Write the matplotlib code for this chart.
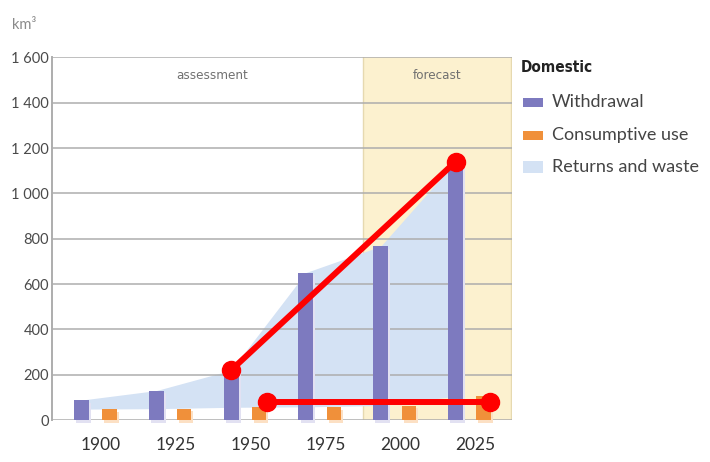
import matplotlib
matplotlib.use("Agg")
import matplotlib.pyplot as plt
import matplotlib.patheffects as pe
from matplotlib.patches import Rectangle
import numpy as np

# ---- data -------------------------------------------------------------
years = ["1900", "1925", "1950", "1975", "2000", "2025"]
withdrawal = [88, 130, 220, 651, 767, 1140]
consumptive = [48, 50, 56, 58, 64, 105]
y_ticks = [0, 200, 400, 600, 800, 1000, 1200, 1400, 1600]
y_tick_labels = ["0", "200", "400", "600", "800", "1 000", "1 200", "1 400", "1 600"]
period_labels = ["assessment", "forecast"]
legend_title = "Domestic"
legend_labels = ["Withdrawal", "Consumptive use", "Returns and waste"]
unit_label = "km³"
# highlighted trends (1950 -> 2025)
trend_withdrawal = [220, 1140]
trend_consumptive = [80, 80]

# ---- style ------------------------------------------------------------
W, H, DPI = 710, 462, 100
c_with = "#7d7abf"
c_cons = "#f0903a"
c_ret = "#d4e2f4"
c_fore = "#fcf1cf"
c_fore_edge = "#e6d9b0"
c_grid = "#adadad"
c_red = "#ff0000"
font = "Lato"

plt.rcParams["font.family"] = [font, "DejaVu Sans"]

fig = plt.figure(figsize=(W / DPI, H / DPI), dpi=DPI)
ax = fig.add_axes([52 / W, 42 / H, 460 / W, 362.5 / H])

idx = np.arange(len(years))
xw = idx - 0.26
xc = idx + 0.113
bar_w = 0.2

x_lo, x_hi = -0.655, 5.495
ax.set_xlim(x_lo, x_hi)
ax.set_ylim(0, 1600)

# forecast band
ax.axvspan(3.5, x_hi, color=c_fore, zorder=0, lw=0)
for xv in (3.5, x_hi - 0.01):
    ax.axvline(xv, color=c_fore_edge, lw=1.0, zorder=0.5)

# returns and waste: area between consumptive and withdrawal
ax.fill_between(xw, consumptive, withdrawal, color=c_ret, lw=0, zorder=1)

# grid
for yv in y_ticks:
    ax.axhline(yv, color=c_grid, lw=1.1, zorder=2)

# bars with soft drop shadows
ax.bar(xw, withdrawal, width=bar_w, color=c_with, zorder=3, clip_on=False,
       path_effects=[pe.SimplePatchShadow(offset=(1.5, -2), shadow_rgbFace="#e2e1f2", alpha=1.0),
                     pe.Normal()])
ax.bar(xc, consumptive, width=0.19, color=c_cons, zorder=3, clip_on=False,
       path_effects=[pe.SimplePatchShadow(offset=(1.5, -2), shadow_rgbFace="#fce0c4", alpha=1.0),
                     pe.Normal()])

# highlighted trend lines
ax.plot([xw[2], xw[5]], trend_withdrawal, color=c_red, lw=4.3, marker="o",
        markersize=13, solid_capstyle="round", zorder=6, clip_on=False)
ax.plot([xc[2] + 0.1, xc[5] + 0.09], trend_consumptive, color=c_red, lw=4.3, marker="o",
        markersize=13, solid_capstyle="round", zorder=6, clip_on=False)

# period headers
ax.text((x_lo + 3.5) / 2 + 0.06, 1522, period_labels[0], ha="center", va="center",
        fontsize=9.5, color="#707070", family=["DejaVu Sans"], fontstretch="condensed")
ax.text((3.5 + x_hi) / 2, 1522, period_labels[1], ha="center", va="center",
        fontsize=9.5, color="#707070", family=["DejaVu Sans"], fontstretch="condensed")

# axes
for s in ("top", "right", "bottom"):
    ax.spines[s].set_visible(False)
ax.spines["left"].set_color(c_grid)
ax.spines["left"].set_linewidth(1.4)
ax.set_yticks(y_ticks)
ax.set_yticklabels(y_tick_labels)
ax.set_xticks(idx)
ax.set_xticklabels(years)
ax.tick_params(axis="y", length=0, pad=2, labelsize=10.5, labelcolor="#4a4a4a")
ax.tick_params(axis="x", length=0, pad=12, labelsize=12.5, labelcolor="#333333")

# unit label
fig.text(12 / W, 1 - 25 / H, unit_label, ha="left", va="center", fontsize=10.5, color="#8a8a8a")

# legend
fig.text(521 / W, 1 - 68 / H, legend_title, ha="left", va="center", fontsize=11,
         fontweight="bold", color="#222222", family=["DejaVu Sans"], fontstretch="condensed")
leg_colors = [c_with, c_cons, c_ret]
leg_y = [102, 135, 167]
leg_h = [9, 9, 12]
for col, yc, hh, lab in zip(leg_colors, leg_y, leg_h, legend_labels):
    fig.patches.append(Rectangle((523 / W, 1 - (yc + hh / 2) / H), 20 / W, hh / H,
                                 transform=fig.transFigure, color=col, lw=0))
    fig.text(552 / W, 1 - yc / H, lab, ha="left", va="center", fontsize=13, color="#444444")

fig.savefig("out.png", dpi=DPI)
